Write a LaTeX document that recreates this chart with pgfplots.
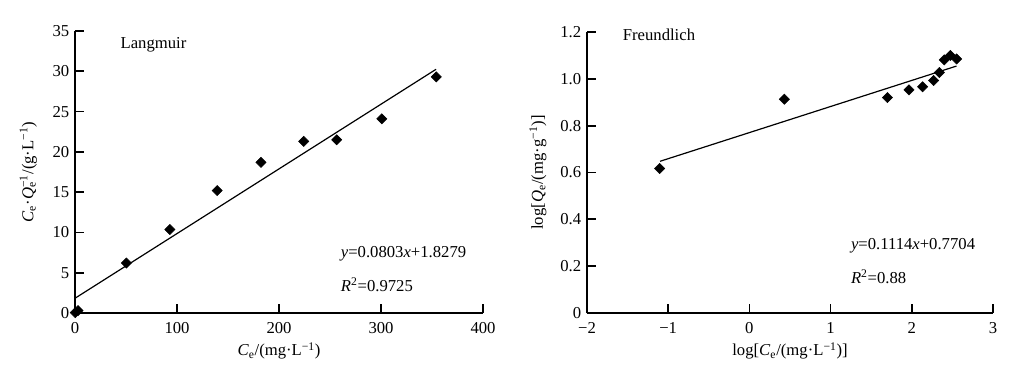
\documentclass[border=0pt]{standalone}
\usepackage{fontspec}
\setmainfont{Liberation Serif}
\usepackage{pgfplots}
\pgfplotsset{compat=1.18}
\begin{document}
\fontsize{12.5}{15}\selectfont
\begin{tikzpicture}
\path[use as bounding box] (0pt,0pt) rectangle (759pt,278.25pt);
\pgfplotsset{myax/.style={
  scale only axis, axis lines*=left, tick align=inside,
  major tick length=7pt,
  axis line style={line width=1.3pt},
  every tick/.style={line width=1.3pt, black},
  tick label style={font=\fontsize{12.5}{15}\selectfont},
  xticklabel style={yshift=-2.5pt},
  label style={font=\fontsize{12.5}{15}\selectfont},
  /pgf/number format/assume math mode=true,
  clip=false,
  every axis x label/.style={at={(axis description cs:0.5,0)}, yshift=-28.5pt, anchor=center},
  every axis y label/.style={at={(axis description cs:0,0.5)}, rotate=90, anchor=center},
  diam/.style={only marks, mark=square*, mark size=2.7pt, mark options={rotate=45, fill=black}},
}}
\pgfplotstableread{
x y
0.3 0.05
3 0.3
50.4 6.2
93 10.36
139.4 15.2
182.3 18.7
224.2 21.3
256.6 21.5
300.8 24.1
354.2 29.3
}\langdata
\pgfplotstableread{
x y
-1.105 0.617
0.43 0.913
1.70 0.920
1.965 0.953
2.133 0.966
2.268 0.993
2.339 1.027
2.40 1.081
2.475 1.100
2.552 1.085
}\freudata
\begin{axis}[myax, at={(56.25pt,43.5pt)}, anchor=south west,
  width=306pt, height=211.5pt,
  xmin=0, xmax=400, ymin=0, ymax=35,
  xtick={0,100,200,300,400}, ytick={0,5,10,15,20,25,30,35},
  every axis y label/.append style={yshift=35pt},
  xlabel={\textit{C}\textsubscript{e}/(mg·L\textsuperscript{−1})},
  ylabel={\textit{C}\textsubscript{e}·\textit{Q}\rlap{\textsubscript{e}}\textsuperscript{−1}/(g·L\textsuperscript{−1})},
]
\addplot[black, line width=0.9pt, no markers] coordinates {(0,1.8279) (354,30.25)};
\addplot[diam] table {\langdata};
\node[anchor=west] at (axis cs:39,33.3) {Langmuir};
\node[anchor=west] at (axis cs:255,7.4) {\textit{y}=0.0803\textit{x}+1.8279};
\node[anchor=west] at (axis cs:255,3.5) {\textit{R}\textsuperscript{2}=0.9725};
\end{axis}
\begin{axis}[myax, at={(440.25pt,43.5pt)}, anchor=south west,
  width=304.5pt, height=210.75pt,
  xmin=-2, xmax=3, ymin=0, ymax=1.2,
  xtick={-2,-1,0,1,2,3}, xticklabels={−2,−1,0,1,2,3},
  ytick={0,0.2,0.4,0.6,0.8,1.0,1.2}, yticklabels={0,0.2,0.4,0.6,0.8,1.0,1.2},
  every axis y label/.append style={yshift=36.75pt},
  xlabel={log[\textit{C}\textsubscript{e}/(mg·L\textsuperscript{−1})]},
  ylabel={log[\textit{Q}\textsubscript{e}/(mg·g\textsuperscript{−1})]},
]
\addplot[black, line width=0.9pt, no markers] coordinates {(-1.1,0.6479) (2.55,1.0545)};
\addplot[diam] table {\freudata};
\node[anchor=west] at (axis cs:-1.63,1.186) {Freundlich};
\node[anchor=west] at (axis cs:1.18,0.286) {\textit{y}=0.1114\textit{x}+0.7704};
\node[anchor=west] at (axis cs:1.18,0.155) {\textit{R}\textsuperscript{2}=0.88};
\end{axis}
\end{tikzpicture}
\end{document}
